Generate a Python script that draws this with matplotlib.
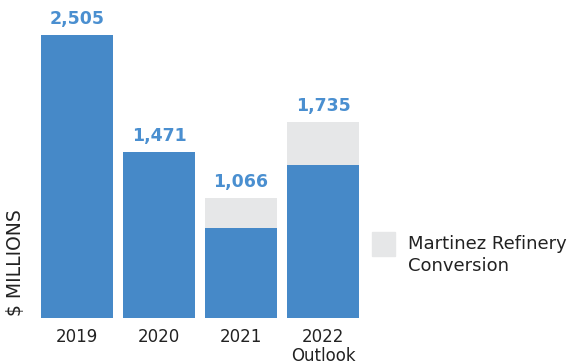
import matplotlib.pyplot as plt

# values ($ millions)
years = ['2019', '2020', '2021', '2022\nOutlook']
base = [2505, 1471, 797, 1354]
martinez = [0, 0, 269, 381]
totals = ['2,505', '1,471', '1,066', '1,735']

blue = '#4689c8'
grey = '#e6e7e8'
label_blue = '#4a8fd0'

fig = plt.figure(figsize=(5.7, 3.64), dpi=100)
ax = fig.add_axes([41 / 570, 46 / 364, 318 / 570, 316 / 364])

x = range(len(years))
ax.bar(x, base, width=0.88, color=blue, zorder=2)
ax.bar(x, martinez, width=0.88, bottom=base, color=grey, zorder=2)

for i, lab in enumerate(totals):
    top = base[i] + martinez[i]
    ax.annotate(lab, (i, top), xytext=(0, 5), textcoords='offset points',
                ha='center', va='bottom', fontsize=12.5, fontweight='bold',
                color=label_blue, family='DejaVu Sans')

ax.set_xlim(-0.44, 3.44)
ax.set_ylim(0, 2800)
ax.set_xticks(list(x))
ax.set_xticklabels(years, fontsize=12, color='#222222', linespacing=1.1)
ax.tick_params(axis='x', length=0, pad=7)
ax.set_yticks([])
for s in ax.spines.values():
    s.set_visible(False)

fig.text(16 / 570, 1 - 316 / 364, '$ MILLIONS', rotation=90, ha='center',
         va='bottom', fontsize=13.5, color='#222222')

# legend: grey swatch + text
fig.patches.append(plt.Rectangle((372 / 570, 1 - 256 / 364), 23 / 570, 24 / 364,
                                 transform=fig.transFigure, color=grey))
fig.text(408 / 570, 1 - 255 / 364, 'Martinez Refinery\nConversion', ha='left',
         va='center', fontsize=13, color='#222222', linespacing=1.25)

fig.savefig('out.png', dpi=100)
